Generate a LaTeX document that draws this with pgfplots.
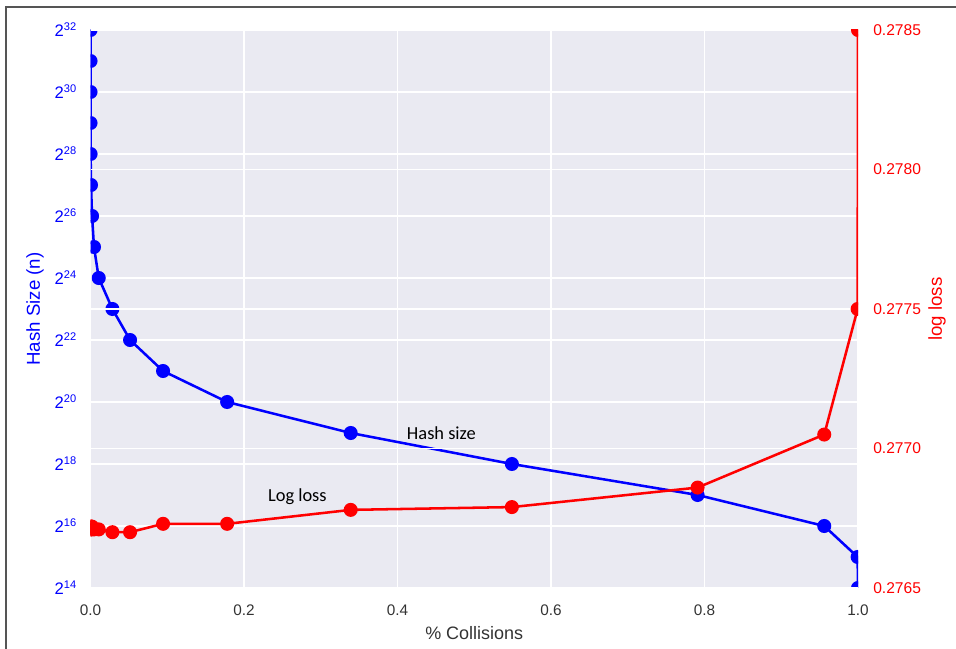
\documentclass[border=0pt]{standalone}
\usepackage{fontspec}
\setmainfont{Liberation Sans}
\newfontfamily\annfont{Carlito}
\usepackage{pgfplots}
\pgfplotsset{compat=1.18}
\definecolor{bgc}{HTML}{EAEAF2}
\definecolor{tickgray}{HTML}{333333}
\definecolor{frame}{HTML}{555555}
\newcommand\pw[1]{2\raisebox{0.36em}{\fontsize{8.3}{8}\selectfont #1}}
\pgfplotstableread{
x      e   ll
0.0000 32 0.27672
0.0000 31 0.27671
0.0000 30 0.27672
0.0000 29 0.27671
0.0001 28 0.27672
0.0006 27 0.27671
0.0020 26 0.27672
0.0045 25 0.27671
0.0107 24 0.27671
0.0285 23 0.27670
0.0515 22 0.27670
0.0945 21 0.27673
0.1780 20 0.27673
0.3390 19 0.27678
0.5490 18 0.27679
0.7910 17 0.27686
0.9560 16 0.27705
0.9995 15 0.27750
1.0000 14 0.27850
}\datatab
\begin{document}
\begin{tikzpicture}
\path[use as bounding box] (-67.9pt,-45.75pt) rectangle (649.1pt,441pt);
\draw[frame, line width=1pt] (-63.4pt,-45.75pt) -- (-63.4pt,435.75pt) -- (649.1pt,435.75pt);
\begin{axis}[
  at={(0,0)}, anchor=south west, scale only axis,
  width=575.6pt, height=418.5pt,
  xmin=0, xmax=1, ymin=14, ymax=32,
  axis background/.style={fill=bgc},
  axis line style={draw=none},
  major tick length=0pt,
  grid=major, grid style={white, line width=1.1pt},
  xtick={0,0.2,0.4,0.6,0.8,1},
  xticklabels={0.0,0.2,0.4,0.6,0.8,1.0},
  xticklabel style={anchor=base, yshift=-20.25pt, text=tickgray, font=\fontsize{11.5}{13}\selectfont},
  ytick={14,16,...,32},
  yticklabels={\pw{14},\pw{16},\pw{18},\pw{20},\pw{22},\pw{24},\pw{26},\pw{28},\pw{30},\pw{32}},
  yticklabel style={anchor=east, inner sep=0pt, xshift=-10.5pt, text=blue, font=\fontsize{12.5}{13}\selectfont},
  xlabel={\% Collisions},
  xlabel style={at={(axis description cs:0.5,-0.0806)}, anchor=center, text=tickgray, font=\fontsize{13.5}{15}\selectfont},
  ylabel={Hash Size (n)},
  ylabel style={at={(axis description cs:-0.0723,0.5)}, anchor=center, text=blue, font=\fontsize{14}{15}\selectfont},
  clip marker paths=true,
]
\addplot[blue, line width=1.9pt, mark=*, mark size=4.3pt, mark options={solid}] table[x=x, y=e] {\datatab};
\node[font=\annfont\fontsize{13.8}{15}\selectfont, anchor=west, text=black, inner sep=0pt] at (axis cs:0.412,19.0) {Hash size};
\node[font=\annfont\fontsize{13.8}{15}\selectfont, anchor=west, text=black, inner sep=0pt] at (axis cs:0.231,16.94) {Log loss};
\end{axis}
\begin{axis}[
  at={(0,0)}, anchor=south west, scale only axis,
  width=575.6pt, height=418.5pt,
  xmin=0, xmax=1, ymin=0.2765, ymax=0.2785,
  axis x line=none, axis y line*=right,
  axis line style={draw=none},
  major tick length=0pt,
  ymajorgrids, grid style={white, line width=1.1pt},
  scaled y ticks=false,
  ytick={0.2765,0.2770,0.2775,0.2780,0.2785},
  yticklabel style={anchor=west, inner sep=0pt, xshift=11.25pt, text=red, font=\fontsize{11.7}{13}\selectfont,
    /pgf/number format/.cd, fixed, fixed zerofill, precision=4, assume math mode=true},
  ylabel={log loss},
  ylabel style={at={(axis description cs:1.103,0.5)}, anchor=center, rotate=0, text=red, font=\fontsize{14}{15}\selectfont},
  clip marker paths=true,
]
\addplot[red, line width=1.9pt, mark=*, mark size=4.3pt, mark options={solid}] table[x=x, y=ll] {\datatab};
\end{axis}
\end{tikzpicture}
\end{document}
